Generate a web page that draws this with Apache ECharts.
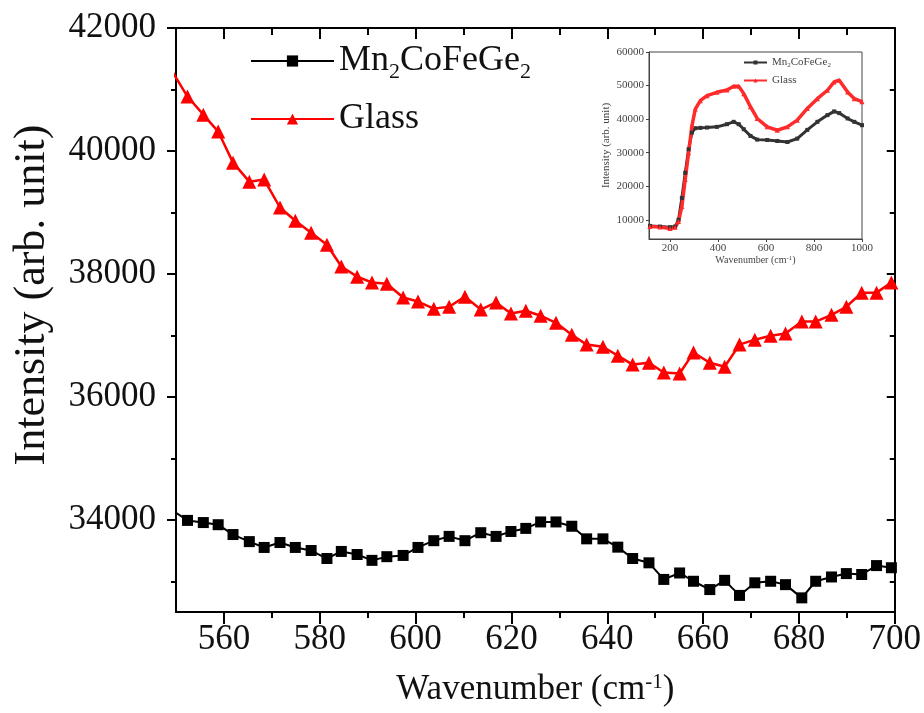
<!DOCTYPE html>
<html>
<head>
<meta charset="utf-8">
<script src="https://cdn.jsdelivr.net/npm/echarts@6.0.0/dist/echarts.min.js"></script>
<style>
  html, body { margin: 0; padding: 0; background: #fff; }
  #main { width: 924px; height: 713px; }
</style>
</head>
<body>
<div id="main"></div>
<script>
// main plot: wavenumber (cm-1) shared by both series
var wavenumber = [549.3, 552.4, 555.7, 558.8, 561.9, 565.3, 568.4, 571.7, 574.9, 578.2, 581.5,
  584.5, 587.8, 590.9, 594.0, 597.4, 600.5, 603.8, 607.0, 610.3, 613.6, 616.8, 619.9,
  623.0, 626.1, 629.3, 632.6, 635.7, 639.1, 642.2, 645.3, 648.7, 651.8, 655.1, 658.0,
  661.4, 664.5, 667.6, 670.8, 674.1, 677.2, 680.6, 683.5, 686.8, 689.9, 693.1, 696.2, 699.3];
var mnValues = [34150, 33990, 33955, 33920, 33760, 33645, 33550, 33630, 33550, 33500, 33370,
  33485, 33435, 33340, 33400, 33420, 33550, 33660, 33730, 33660, 33790, 33730, 33810,
  33860, 33965, 33965, 33895, 33690, 33690, 33555, 33370, 33300, 33030, 33135, 33000,
  32865, 33015, 32770, 32975, 33000, 32945, 32730, 33000, 33070, 33125, 33110, 33255, 33220];
var glassValues = [41280, 40885, 40590, 40315, 39810, 39500, 39535, 39080, 38865, 38670, 38475,
  38120, 37955, 37860, 37840, 37615, 37550, 37435, 37465, 37630, 37420, 37535, 37355,
  37400, 37320, 37205, 37010, 36850, 36815, 36670, 36525, 36555, 36395, 36380, 36720,
  36555, 36490, 36850, 36930, 36995, 37030, 37225, 37225, 37335, 37465, 37695, 37695, 37860];

// inset: full spectrum
var insetWavenumber = [116, 158, 200, 221, 235, 249, 263, 277, 291, 305, 326, 354, 395, 437, 465,
  486, 507, 535, 563, 605, 647, 689, 730, 772, 814, 856, 884, 905, 940, 968, 1000];
var insetMn = [8200, 8000, 7800, 8000, 10000, 16500, 24000, 31000, 36000, 37300, 37400, 37500,
  37700, 38500, 39200, 38500, 37000, 35000, 33900, 33800, 33500, 33200, 34200, 36800, 39200,
  41200, 42300, 41800, 40200, 39200, 38200];
var insetGlass = [8000, 7900, 7400, 7800, 9500, 14000, 22000, 30000, 38000, 43000, 45500, 47000,
  48000, 48700, 49800, 49800, 47600, 43700, 40200, 37700, 36700, 37700, 39700, 43200, 46100,
  48600, 51100, 51600, 48100, 46100, 45200];

// tick positions
var xMajorTicks = [560, 580, 600, 620, 640, 660, 680, 700];
var xMinorTicks = [570, 590, 610, 630, 650, 670, 690];
var yMajorTicks = [34000, 36000, 38000, 40000, 42000];
var yMinorTicks = [33000, 35000, 37000, 39000, 41000];
var insetXTicks = [200, 400, 600, 800, 1000];
var insetYTicks = [10000, 20000, 30000, 40000, 50000, 60000];

var FONT = "'Liberation Serif', 'Times New Roman', serif";

function pairs(xs, ys) {
  return xs.map(function (x, i) { return [x, ys[i]]; });
}

// plain numbers, no thousands separator
function plain(v) { return String(v); }

// legend text with subscripts
function legendName(name) {
  if (name.indexOf('Mn') >= 0) return 'Mn{sub|2}CoFeGe{sub|2}';
  return 'Glass';
}

// one main-frame axis: only ticks (and maybe line/labels) at given values
function frameAxis(kind, pos, ticks, len, inside, extra) {
  var ax = {
    type: 'value',
    gridIndex: 0,
    position: pos,
    min: kind === 'x' ? 550 : 32500,
    max: kind === 'x' ? 700 : 42000,
    axisLine: { show: false, onZero: false, lineStyle: { color: '#000', width: 2 } },
    axisTick: { show: true, inside: inside, length: len, customValues: ticks,
      lineStyle: { color: '#000', width: 2 } },
    axisLabel: { show: false },
    splitLine: { show: false }
  };
  return Object.assign(ax, extra || {});
}

var chart = echarts.init(document.getElementById('main'));

var option = {
  animation: false,
  backgroundColor: '#fff',
  grid: [
    { left: 176, right: 28, top: 28, bottom: 101 },
    { left: 649, right: 62, top: 52, bottom: 474, show: true, borderColor: '#444',
      borderWidth: 1, backgroundColor: '#fff' }
  ],
  legend: [
    {
      data: ['Mn2CoFeGe2', 'Glass'],
      orient: 'vertical', left: 250, top: 39, padding: 0, itemGap: 14,
      itemWidth: 83, itemHeight: 14,
      formatter: legendName,
      textStyle: { fontFamily: FONT, fontSize: 36, color: '#111', lineHeight: 44,
        rich: { sub: { fontFamily: FONT, fontSize: 22, verticalAlign: 'bottom', color: '#111' } } }
    },
    {
      data: ['inset Mn2CoFeGe2', 'inset Glass'],
      orient: 'vertical', left: 743, top: 56, padding: 0, itemGap: 5,
      itemWidth: 23, itemHeight: 5,
      formatter: legendName,
      textStyle: { fontFamily: FONT, fontSize: 11, color: '#444', lineHeight: 13,
        rich: { sub: { fontFamily: FONT, fontSize: 7, verticalAlign: 'bottom', color: '#444' } } }
    }
  ],
  xAxis: [
    frameAxis('x', 'bottom', xMajorTicks, 12, false, {
      axisLine: { show: true, onZero: false, lineStyle: { color: '#000', width: 2 } },
      axisLabel: { show: true, customValues: xMajorTicks, margin: 10, fontFamily: FONT,
        fontSize: 35, color: '#111', formatter: plain },
      name: 'Wavenumber (cm{sup|-1})',
      nameLocation: 'middle', nameGap: 60,
      nameTextStyle: { fontFamily: FONT, fontSize: 35, color: '#111',
        rich: { sup: { fontFamily: FONT, fontSize: 21, verticalAlign: 'top', color: '#111' } } }
    }),
    frameAxis('x', 'bottom', xMinorTicks, 6, false),
    frameAxis('x', 'top', xMajorTicks, 11, true, {
      axisLine: { show: true, onZero: false, lineStyle: { color: '#000', width: 2 } }
    }),
    frameAxis('x', 'top', xMinorTicks, 7, true),
    {
      type: 'value', gridIndex: 1, min: 112, max: 1000,
      axisLine: { show: true, onZero: false, lineStyle: { color: '#444', width: 1 } },
      axisTick: { show: true, length: 3, customValues: insetXTicks, lineStyle: { color: '#444' } },
      axisLabel: { customValues: insetXTicks, margin: 4, fontFamily: FONT, fontSize: 11,
        color: '#444', formatter: plain },
      splitLine: { show: false },
      name: 'Wavenumber (cm{sup|-1})', nameLocation: 'middle', nameGap: 15,
      nameTextStyle: { fontFamily: FONT, fontSize: 10, color: '#444',
        rich: { sup: { fontFamily: FONT, fontSize: 7, verticalAlign: 'top', color: '#444' } } }
    }
  ],
  yAxis: [
    frameAxis('y', 'left', yMajorTicks, 9, false, {
      axisLine: { show: true, onZero: false, lineStyle: { color: '#000', width: 2 } },
      axisLabel: { show: true, customValues: yMajorTicks, margin: 20, fontFamily: FONT,
        fontSize: 35, color: '#111', formatter: plain },
      name: 'Intensity (arb. unit)',
      nameLocation: 'middle', nameGap: 122,
      nameTextStyle: { fontFamily: FONT, fontSize: 44, color: '#111', padding: [0, 0, 0, 50] }
    }),
    frameAxis('y', 'left', yMinorTicks, 5, false),
    frameAxis('y', 'right', yMajorTicks, 8, true, {
      axisLine: { show: true, onZero: false, lineStyle: { color: '#000', width: 2 } }
    }),
    frameAxis('y', 'right', yMinorTicks, 5, true),
    {
      type: 'value', gridIndex: 1, min: 4300, max: 60000,
      axisLine: { show: true, onZero: false, lineStyle: { color: '#444', width: 1 } },
      axisTick: { show: true, length: 3, customValues: insetYTicks, lineStyle: { color: '#444' } },
      axisLabel: { customValues: insetYTicks, margin: 5, fontFamily: FONT, fontSize: 11,
        color: '#444', formatter: plain },
      splitLine: { show: false },
      name: 'Intensity (arb. unit)', nameLocation: 'middle', nameGap: 37,
      nameTextStyle: { fontFamily: FONT, fontSize: 11, color: '#444' }
    }
  ],
  series: [
    {
      name: 'Mn2CoFeGe2', type: 'line', xAxisIndex: 0, yAxisIndex: 0,
      data: pairs(wavenumber, mnValues),
      symbol: 'rect', symbolSize: 11, clip: true,
      lineStyle: { color: '#000', width: 2 }, itemStyle: { color: '#000' }
    },
    {
      name: 'Glass', type: 'line', xAxisIndex: 0, yAxisIndex: 0,
      data: pairs(wavenumber, glassValues),
      symbol: 'triangle', symbolSize: 14, clip: true,
      lineStyle: { color: '#ff0000', width: 2.5 }, itemStyle: { color: '#ff0000' }
    },
    {
      name: 'inset Mn2CoFeGe2', type: 'line', xAxisIndex: 4, yAxisIndex: 4,
      data: pairs(insetWavenumber, insetMn),
      symbol: 'rect', symbolSize: 4,
      lineStyle: { color: '#333', width: 3 }, itemStyle: { color: '#333' }
    },
    {
      name: 'inset Glass', type: 'line', xAxisIndex: 4, yAxisIndex: 4,
      data: pairs(insetWavenumber, insetGlass),
      symbol: 'triangle', symbolSize: 5,
      lineStyle: { color: '#ff2a2a', width: 3.5 }, itemStyle: { color: '#ff2a2a' }
    }
  ]
};

option && chart.setOption(option);
</script>
</body>
</html>
